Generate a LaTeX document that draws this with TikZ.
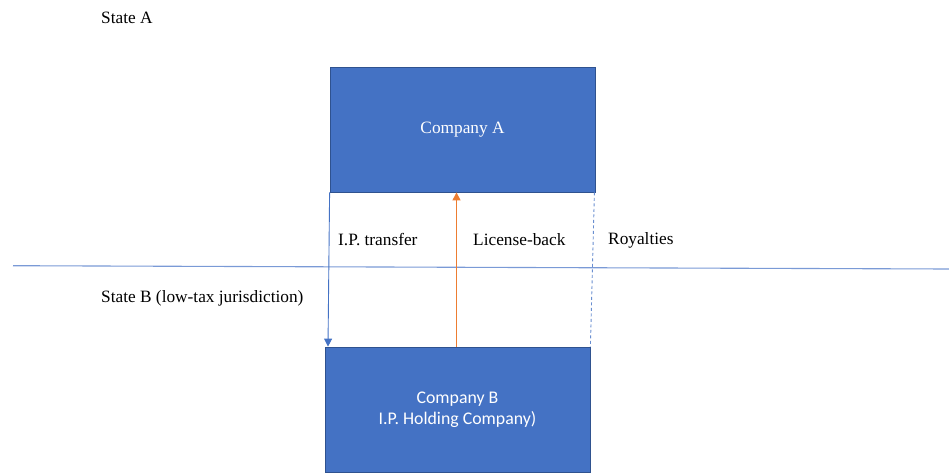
\documentclass[tikz,border=0pt]{standalone}
\usepackage{fontspec}
\setmainfont{Liberation Serif}
\newfontfamily\calib{Carlito}
\usetikzlibrary{arrows.meta}
\definecolor{offblue}{HTML}{4472C4}
\definecolor{offedge}{HTML}{2F528F}
\definecolor{offorange}{HTML}{ED7D31}
\definecolor{linecol}{HTML}{7A9AD6}
\begin{document}
\begin{tikzpicture}[x=1pt,y=-1pt,
  company/.style={draw=offedge,fill=offblue,line width=0.8pt,minimum width=265pt,minimum height=125pt,text=white,inner sep=0pt,align=center},
  lbl/.style={inner sep=0pt,anchor=west,font=\fontsize{17.3}{19}\selectfont},
  tip/.style={-{Triangle[length=8pt,width=8pt]}}]
\useasboundingbox (0,0) rectangle (949,474);
\node[company,font=\fontsize{17.3}{19}\selectfont] (A) at (462.5,129.5) {\raisebox{-3pt}{Company A}};
\node[company,font=\calib\fontsize{17.8}{21.5}\selectfont] (B) at (457.5,409.5) {Company B\\I.P. Holding Company)};
\coordinate (L1) at (13,265.7);
\coordinate (L2) at (949,269);
\draw[linecol,line width=1.1pt] (L1) -- (L2);
\draw[offblue,line width=0.9pt,tip] (A.south west) -- ([xshift=-1pt]B.north west -| 329,0);
\draw[offorange,line width=1.1pt,tip] (B.north -| 456.5,0) -- (A.south -| 456.5,0);
\draw[offblue!80,line width=0.9pt,dash pattern=on 3pt off 2.5pt] ([xshift=-1pt]A.south east) -- (B.north east);
\node[lbl] (sa) at (101,18) {State A};
\node[lbl] (sb) at (101,298) {State B (low-tax jurisdiction)};
\node[lbl] (ip) at (338,240) {I.P. transfer};
\node[lbl] (lb) at (473,240) {License-back};
\node[lbl] (ro) at (608,240) {Royalties};
\end{tikzpicture}
\end{document}
